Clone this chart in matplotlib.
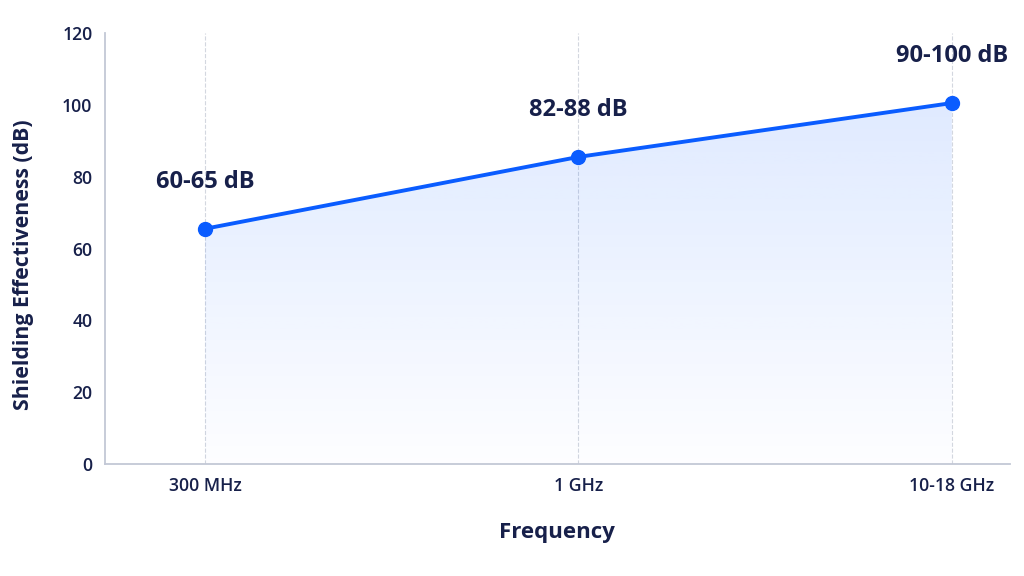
import matplotlib.pyplot as plt
import numpy as np
from matplotlib.colors import to_rgb

plt.rcParams['font.family'] = ['Open Sans', 'DejaVu Sans']

freqs = ['300 MHz', '1 GHz', '10-18 GHz']
shielding = [65.5, 85.5, 100.5]
labels = ['60-65 dB', '82-88 dB', '90-100 dB']

navy = '#17204a'
blue = '#0a5cff'
x = np.arange(len(freqs))

fig = plt.figure(figsize=(10.24, 5.76), dpi=100)
ax = fig.add_axes([0.1025, 0.1944, 0.8835, 0.7483])

# gradient fill under the line
fill = ax.fill_between(x, 0, shielding, color='none', lw=0)
r, g, b = to_rgb(blue)
grad = np.zeros((256, 1, 4))
grad[:, 0, 0] = r
grad[:, 0, 1] = g
grad[:, 0, 2] = b
grad[:, 0, 3] = np.linspace(0.13, 0.01, 256)
img = ax.imshow(grad, aspect='auto', extent=[x[0], x[-1], 0, max(shielding)],
                origin='upper', zorder=1)
img.set_clip_path(fill.get_paths()[0], transform=ax.transData)

ax.plot(x, shielding, color=blue, lw=2.8, marker='o', ms=10, zorder=3)

for xi, yi, lab in zip(x, shielding, labels):
    ax.annotate(lab, (xi, yi), xytext=(0, 34), textcoords='offset points',
                ha='center', va='center', fontsize=17, fontweight='bold',
                color=navy)

ax.set_xlim(-0.268, 2.155)
ax.set_ylim(0, 120)
ax.set_xticks(x)
ax.set_xticklabels(freqs)
ax.set_yticks(range(0, 121, 20))
ax.tick_params(length=0, labelsize=12.7, labelcolor=navy)
ax.tick_params(axis='y', pad=9)
ax.tick_params(axis='x', pad=9)
for t in ax.get_xticklabels() + ax.get_yticklabels():
    t.set_fontweight('semibold')

ax.grid(axis='x', ls='--', color='#d3d7df', lw=0.8)
ax.set_axisbelow(True)
for s in ['top', 'right']:
    ax.spines[s].set_visible(False)
for s in ['left', 'bottom']:
    ax.spines[s].set_color('#c3c8d6')
    ax.spines[s].set_linewidth(1.3)

ax.set_xlabel('Frequency', fontsize=16, fontweight='bold', color=navy, labelpad=20)
ax.set_ylabel('Shielding Effectiveness (dB)', fontsize=15.3, fontweight='bold',
              color=navy)
ax.yaxis.set_label_coords(-0.078, 0.463)

fig.savefig('out.png', dpi=100)
